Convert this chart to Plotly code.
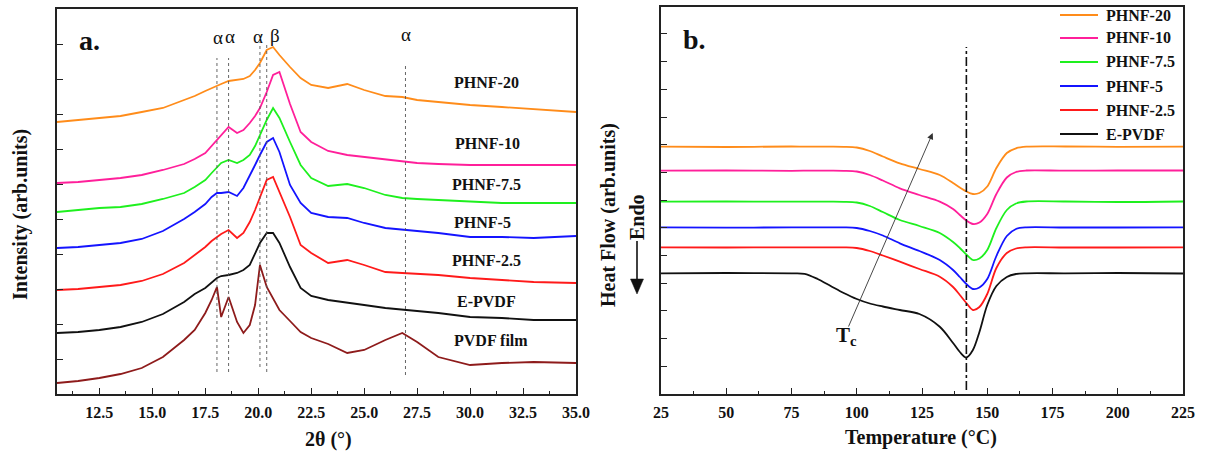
import plotly.graph_objects as go

W, H = 1206, 454
SERIF = "Liberation Serif"

# ---------------- XRD patterns (panel a) ----------------
two_theta = [10.5, 11.5, 12.5, 13.5, 14.5, 15.5, 16.5, 17.0, 17.5, 17.8, 18.05, 18.25,
             18.6, 19.0, 19.3, 19.6, 19.85, 20.08, 20.4, 20.7, 21.0, 21.5, 22.0, 22.5,
             23.3, 24.2, 25.0, 26.0, 26.8, 27.5, 28.5, 30.0, 31.5, 33.0, 35.0]

xrd_phnf20 = [272, 274, 276, 278, 282, 286, 294, 298, 303, 306, 308, 310, 313, 314, 315, 318,
              324, 331, 344, 347, 339, 327, 316, 309, 306, 310, 304, 298, 297, 294, 292, 289,
              287, 285, 282]
xrd_phnf10 = [211, 212, 214, 216, 219, 224, 230, 235, 241, 248, 254, 259, 267, 261, 264, 271,
              278, 286, 302, 319, 322, 290, 262, 252, 243, 239, 237, 234, 232, 231, 230, 229,
              229, 229, 229]
xrd_phnf75 = [182, 184, 186, 187, 190, 195, 201, 207, 214, 221, 227, 231, 234, 231, 234, 239,
              248, 259, 274, 286, 276, 252, 229, 216, 208, 210, 206, 199, 196, 195, 194, 192,
              191, 191, 191]
xrd_phnf5 = [146, 147, 149, 151, 155, 163, 175, 182, 190, 197, 201, 201, 202, 198, 206, 218,
             229, 239, 252, 256, 242, 209, 191, 181, 177, 176, 171, 166, 164, 163, 161, 157,
             157, 156, 158]
xrd_phnf25 = [104, 105, 107, 109, 113, 120, 131, 139, 147, 153, 157, 160, 164, 156, 161, 172,
              184, 196, 214, 217, 202, 177, 149, 141, 131, 134, 129, 122, 121, 120, 119, 116,
              114, 112, 111]
xrd_epvdf = [61, 62, 64, 67, 72, 80, 92, 100, 106, 112, 116, 118, 119, 121, 124, 129,
             140, 151, 161, 161, 151, 127, 106, 98, 94, 91, 89, 86, 84, 83, 81, 77,
             76, 74, 74]
xrd_film = [11, 13, 16, 20, 26, 37, 54, 64, 81, 94, 107, 77, 97, 72, 61, 69,
            89, 129, 107, 95, 84, 73, 62, 56, 50, 41, 44, 54, 61, 52, 37, 29,
            31, 32, 31]

xrd_names = ["PHNF-20", "PHNF-10", "PHNF-7.5", "PHNF-5", "PHNF-2.5", "E-PVDF", "PVDF film"]
xrd_series = [xrd_phnf20, xrd_phnf10, xrd_phnf75, xrd_phnf5, xrd_phnf25, xrd_epvdf, xrd_film]

# phase reflections marked with guide lines
phase_pos = [18.05, 18.6, 20.08, 20.4, 26.95]
phase_top = [336, 336, 352, 352, 330]
phase_bottom = [22, 22, 27, 22, 19]
phase_symbols = ["α", "α", "α", "β", "α"]

x1_ticks = [12.5, 15, 17.5, 20, 22.5, 25, 27.5, 30, 32.5, 35]
x2_ticks = [25, 50, 75, 100, 125, 150, 175, 200, 225]

# ---------------- DSC cooling curves (panel b) ----------------
temperature = [25, 50, 75, 80, 85, 90, 95, 100, 105, 110, 116.5, 124, 131.8, 136.9, 139.5,
               142, 144.5, 147, 150, 153.5, 157.5, 161, 165, 180, 200, 225]

dsc_phnf20 = [247.3, 247.0, 247.5, 247.3, 247.3, 247.3, 247.2, 246.5, 243.0, 237.5, 230.7,
              225.0, 219.0, 211.0, 206.5, 202.5, 200.0, 201.0, 207.5, 226.0, 241.0, 245.7,
              247.3, 247.5, 247.2, 247.3]
dsc_phnf10 = [223.3, 223.5, 223.2, 223.3, 223.3, 223.3, 223.2, 222.5, 219.0, 213.5, 205.7,
              199.0, 192.3, 185.0, 179.0, 173.5, 170.0, 171.5, 180.0, 200.0, 216.5, 222.0,
              223.5, 223.3, 223.5, 223.5]
dsc_phnf75 = [192.3, 192.5, 192.3, 192.3, 192.3, 192.3, 192.2, 191.5, 188.0, 182.0, 174.0,
              168.0, 161.0, 152.0, 146.0, 139.5, 134.0, 135.5, 144.0, 166.0, 184.0, 190.5,
              192.5, 192.5, 192.0, 192.5]
dsc_phnf5 = [166.7, 166.3, 166.7, 166.7, 166.7, 166.7, 166.6, 166.0, 163.0, 158.5, 150.7,
             143.0, 134.0, 124.0, 117.0, 110.0, 105.0, 106.5, 115.0, 138.0, 158.0, 165.0,
             166.7, 166.5, 166.5, 166.7]
dsc_phnf25 = [146.7, 146.5, 146.7, 146.7, 146.7, 146.7, 146.6, 146.0, 143.0, 138.5, 132.3,
              125.0, 117.3, 107.0, 99.0, 91.0, 84.0, 87.0, 100.0, 126.0, 141.0, 145.5,
              146.7, 146.5, 146.5, 146.7]
dsc_epvdf = [120.7, 121.0, 120.7, 120.2, 115.0, 108.0, 101.0, 95.0, 90.5, 87.5, 84.0,
             80.0, 67.3, 51.0, 42.0, 36.5, 44.0, 62.0, 89.0, 108.0, 117.0, 120.0,
             120.7, 120.7, 121.0, 120.5]

dsc_names = ["PHNF-20", "PHNF-10", "PHNF-7.5", "PHNF-5", "PHNF-2.5", "E-PVDF"]
dsc_series = [dsc_phnf20, dsc_phnf10, dsc_phnf75, dsc_phnf5, dsc_phnf25, dsc_epvdf]

tc_line_temp = 142
tc_arrow_start = (96.6, 66)
tc_arrow_end = (129.1, 261)

colors = {
    "PHNF-20": "#FF8C1A",
    "PHNF-10": "#FF1F9A",
    "PHNF-7.5": "#1EF01E",
    "PHNF-5": "#1414FF",
    "PHNF-2.5": "#FF1A1A",
    "E-PVDF": "#111111",
    "PVDF film": "#8E1B1B",
}
INK = "#111111"


def paper(x, y):
    return x / W, 1 - y / H


def label(x, y, text, size, **kw):
    px_, py_ = paper(x, y)
    d = dict(x=px_, y=py_, xref="paper", yref="paper", text=text, showarrow=False,
             xanchor="center", yanchor="middle",
             font=dict(family=SERIF, size=size, color=INK))
    d.update(kw)
    return d


fig = go.Figure()

for name, vals in zip(xrd_names, xrd_series):
    fig.add_trace(go.Scatter(
        x=two_theta, y=vals, mode="lines", name=name, showlegend=False,
        line=dict(color=colors[name], width=1.8), xaxis="x", yaxis="y"))

for name, vals in zip(dsc_names, dsc_series):
    fig.add_trace(go.Scatter(
        x=temperature, y=vals, mode="lines", name=name, showlegend=False,
        line=dict(color=colors[name], width=1.8, shape="spline", smoothing=0.9),
        xaxis="x2", yaxis="y2"))

# guide lines for the crystalline reflections
for pos, top, bot in zip(phase_pos, phase_top, phase_bottom):
    fig.add_shape(type="line", xref="x", yref="y", x0=pos, x1=pos, y0=bot, y1=top,
                  line=dict(color="#555555", width=0.9, dash="dot"))

# Tc guide line
fig.add_shape(type="line", xref="x2", yref="y2", x0=tc_line_temp, x1=tc_line_temp,
              y0=4, y1=347, line=dict(color=INK, width=1.6, dash="dashdot"))

annotations = []

# phase symbols above the guide lines
sym_px = [(218, 38), (230, 37), (258, 37), (275, 35), (406, 34)]
for s, (x, y) in zip(phase_symbols, sym_px):
    annotations.append(label(x, y, s, 19))

# sample labels in panel a
label_px = [(486, 83), (487, 143), (486, 185), (482, 222), (486, 260), (486, 301), (491, 340)]
for name, (x, y) in zip(xrd_names, label_px):
    annotations.append(label(x, y, f"<b>{name}</b>", 16))

# panel letters
annotations.append(label(90, 40, "<b>a.</b>", 28))
annotations.append(label(694, 39, "<b>b.</b>", 28))

# axis titles
annotations.append(label(328, 439, "<b>2θ (°)</b>", 20))
annotations.append(label(921, 437, "<b>Temperature (°C)</b>", 20))
annotations.append(label(20, 215, "<b>Intensity (arb.units)</b>", 20, textangle=-90))
annotations.append(label(608, 215, "<b>Heat Flow (arb.units)</b>", 20, textangle=-90))
annotations.append(label(637, 217, "<b>Endo</b>", 20, textangle=-90))

# legend of panel b: short line sample + name
legend_rows = [15, 38, 62, 86, 110, 134]
for name, y in zip(dsc_names, legend_rows):
    lx0, ly = paper(1060, y)
    lx1, _ = paper(1098, y)
    fig.add_shape(type="line", xref="paper", yref="paper", x0=lx0, x1=lx1, y0=ly, y1=ly,
                  line=dict(color=colors[name], width=2))
    annotations.append(label(1104, y, f"<b>{name}</b>", 16, xanchor="left"))

# Tc arrow and label
annotations.append(dict(x=tc_arrow_end[0], y=tc_arrow_end[1], ax=tc_arrow_start[0],
                        ay=tc_arrow_start[1], xref="x2", yref="y2", axref="x2", ayref="y2",
                        text="", showarrow=True, arrowhead=2, arrowsize=1.4,
                        arrowwidth=0.9, arrowcolor="#333333"))
annotations.append(label(846, 336, "<b>T<sub>c</sub></b>", 21))

# Endo arrow: stem and head
x0, y0 = paper(637, 241)
x1, y1 = paper(637, 281)
fig.add_shape(type="line", xref="paper", yref="paper", x0=x0, x1=x1, y0=y0, y1=y1,
              line=dict(color=INK, width=1.6))
a, b = paper(630.5, 279)
c, d = paper(643.5, 279)
e, f = paper(637, 294)
fig.add_shape(type="path", xref="paper", yref="paper",
              path=f"M {a},{b} L {c},{d} L {e},{f} Z",
              fillcolor=INK, line=dict(color=INK, width=0.5))

axis_common = dict(showline=True, linecolor="#222222", linewidth=1.5, mirror=True,
                   showgrid=False, zeroline=False, ticks="inside", tickcolor="#222222",
                   ticklen=6, tickwidth=1.2,
                   tickfont=dict(family=SERIF, size=16, color=INK))

fig.update_layout(
    width=W, height=H, template="none",
    paper_bgcolor="white", plot_bgcolor="white",
    margin=dict(l=0, r=0, t=0, b=0),
    xaxis=dict(axis_common, domain=[57 / W, 576 / W], range=[10.5, 35],
               tickvals=x1_ticks, ticktext=[f"<b>{v:.1f}</b>" for v in x1_ticks],
               minor=dict(ticks="inside", ticklen=3, dtick=1.25, tick0=10, tickcolor="#222222"),
               anchor="y", ticklabelstandoff=3),
    yaxis=dict(axis_common, domain=[1 - 394 / H, 1 - 9 / H], range=[0, 385],
               tickvals=[35 * i for i in range(1, 11)], showticklabels=False, anchor="x"),
    xaxis2=dict(axis_common, domain=[661 / W, 1183 / W], range=[25, 225],
                tickvals=x2_ticks, ticktext=[f"<b>{v}</b>" for v in x2_ticks],
                minor=dict(ticks="inside", ticklen=3, dtick=12.5, tick0=25, tickcolor="#222222"),
                anchor="y2", ticklabelstandoff=3),
    yaxis2=dict(axis_common, domain=[1 - 394 / H, 1 - 7 / H], range=[0, 387],
                tickvals=[27.7 * i for i in range(1, 14)], showticklabels=False, anchor="x2"),
    annotations=annotations,
    showlegend=False,
)

fig.write_html("out.html")
